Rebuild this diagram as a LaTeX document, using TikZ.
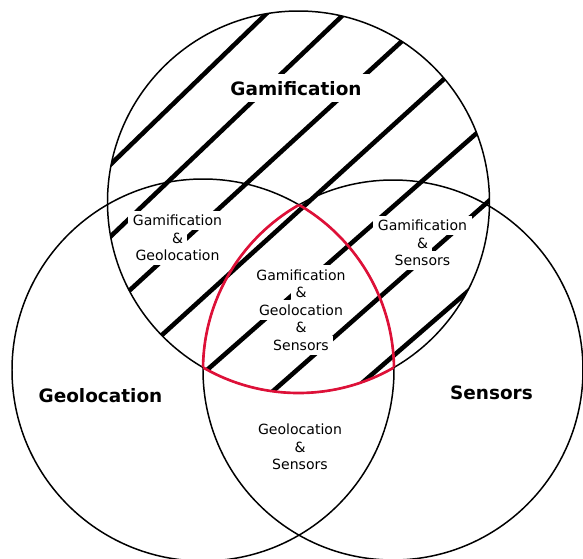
\documentclass[tikz,border=0pt]{standalone}
\usepackage{fontspec}
\setmainfont{DejaVu Sans}
\definecolor{corered}{RGB}{222,16,56}
% white patch behind a text line, so the hatching breaks around it
\newlength{\patchsep}
\setlength{\patchsep}{2.5pt}
\newcommand{\wbox}[1]{{\setlength{\fboxsep}{\patchsep}\colorbox{white}{#1}}}
\newcommand{\tightlines}{\setlength{\lineskiplimit}{-\maxdimen}}

\begin{document}
\begin{tikzpicture}[x=0.02cm, y=-0.02cm,
  ring/.style={line width=0.85pt},
  hatch/.style={line width=2.6pt, shorten <=-3pt, shorten >=-3pt},
  core/.style={corered, line width=1.5pt},
  setname/.style={font=\fontsize{10.5}{12}\selectfont\bfseries, inner sep=0pt},
  overlap/.style={font=\fontsize{8}{10}\selectfont\tightlines, align=center, inner sep=0pt}]
  \useasboundingbox (0,0) rectangle (583,559);

  % Circle centres
  \coordinate (ctop)   at (298.5,202);
  \coordinate (cleft)  at (203,370);
  \coordinate (cright) at (393,370);

  % Hatching of the Gamification set
  \begin{scope}
    \clip (ctop) circle [radius=191];
    \foreach \xa/\ya/\xb/\yb in {110/165/266/14, 110/237/342/16, 130/290/401/42,
                                 162/335/444/79, 207/370/478/132, 272/392/490/200,
                                 362/383/466/293}
      \draw[hatch] (\xa,\ya) -- (\xb,\yb);
  \end{scope}

  % Set names
  \node[setname, anchor=base] (gam) at (296,95)
    {\setlength{\patchsep}{4pt}\wbox{Gamification}};
  \node[setname, anchor=base] (geo) at (100.5,402) {Geolocation};
  \node[setname, anchor=base] (sen) at (491.5,399) {Sensors};

  % Overlaps
  \node[overlap] (gamgeo) at (177.5,238)
    {\wbox{Gamification}\\\wbox{\&}\\\wbox{Geolocation}};
  \node[overlap] (gamsen) at (422.5,243)
    {\wbox{Gamification}\\\wbox{\&}\\\wbox{Sensors}};
  \node[overlap] (all) at (301,310)
    {\wbox{Gamification}\\\wbox{\&}\\\wbox{Geolocation}\\\wbox{\&}\\\wbox{Sensors}};
  \node[overlap] (geosen) at (300,447)
    {Geolocation\\\&\\Sensors};

  % Circles
  \draw[ring] (ctop) circle [radius=191];
  \draw[ring] (cleft) circle [radius=191];
  \draw[ring] (cright) circle [radius=190];

  % Outline of the common part
  \begin{scope}
    \clip (cleft) circle [radius=191];
    \clip (cright) circle [radius=190];
    \draw[core] (ctop) circle [radius=191];
  \end{scope}
  \begin{scope}
    \clip (ctop) circle [radius=191];
    \clip (cright) circle [radius=190];
    \draw[core] (cleft) circle [radius=191];
  \end{scope}
  \begin{scope}
    \clip (ctop) circle [radius=191];
    \clip (cleft) circle [radius=191];
    \draw[core] (cright) circle [radius=190];
  \end{scope}
\end{tikzpicture}
\end{document}
